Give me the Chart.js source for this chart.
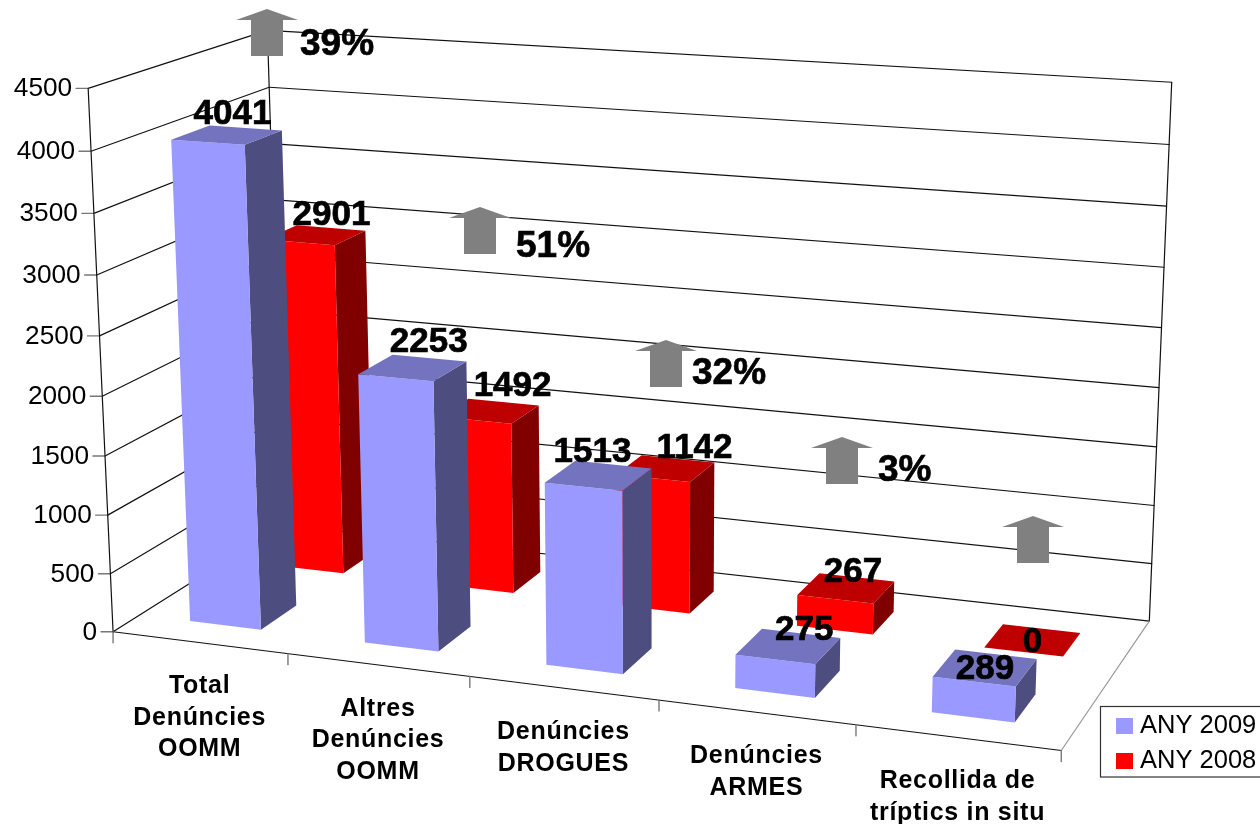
<!DOCTYPE html>
<html>
<head>
<meta charset="utf-8">
<title>Denúncies</title>
<script src="https://cdn.jsdelivr.net/npm/chart.js@4.4.1/dist/chart.umd.min.js"></script>
<style>
  html, body { margin: 0; background: #fff; overflow: hidden; }
  canvas { display: block; }
</style>
</head>
<body>
<canvas id="barCanvas" width="1260" height="824"></canvas>
<script>
const categories = [
  ["Total", "Denúncies", "OOMM"],
  ["Altres", "Denúncies", "OOMM"],
  ["Denúncies", "DROGUES"],
  ["Denúncies", "ARMES"],
  ["Recollida de", "tríptics in situ"]
];
const seriesNames = ["ANY 2009", "ANY 2008"];
const values2009 = [4041, 2253, 1513, 275, 289];
const values2008 = [2901, 1492, 1142, 267, 0];
const changeLabels = ["39%", "51%", "32%", "3%", ""];
const axisMax = 4500;
const axisStep = 500;

// camera: world (u along categories, v depth, w height, all 0-1) -> picture
const calibration = [
  [0, 0, 1, 89.5, 88], [0, 0, 8 / 9, 91.5, 151], [0, 0, 7 / 9, 95, 213], [0, 0, 6 / 9, 97, 275],
  [0, 0, 5 / 9, 99.5, 337], [0, 0, 4 / 9, 102, 397], [0, 0, 3 / 9, 104, 456], [0, 0, 2 / 9, 107, 515.5],
  [0, 0, 1 / 9, 110, 573], [0, 0, 0, 112.5, 631.5],
  [0.2, 0, 0, 288, 654], [0.4, 0, 0, 470, 677], [0.6, 0, 0, 658, 700], [0.8, 0, 0, 856, 725], [1, 0, 0, 1062, 749],
  [0, 1, 1, 266, 30], [0, 1, 8 / 9, 268.5, 87.5], [0, 1, 0, 285, 524],
  [1, 1, 1, 1172, 82], [1, 1, 8 / 9, 1169, 145], [1, 1, 7 / 9, 1166.5, 206], [1, 1, 0, 1149, 622]
];

function solveCamera(points) {
  const n = 11;
  const A = Array.from({ length: n }, () => new Array(n + 1).fill(0));
  const add = (row, rhs) => {
    for (let i = 0; i < n; i++) {
      for (let j = 0; j < n; j++) A[i][j] += row[i] * row[j];
      A[i][n] += row[i] * rhs;
    }
  };
  points.forEach(([u, v, w, x, y]) => {
    add([u, v, w, 1, 0, 0, 0, 0, -x * u, -x * v, -x * w], x);
    add([0, 0, 0, 0, u, v, w, 1, -y * u, -y * v, -y * w], y);
  });
  for (let c = 0; c < n; c++) {
    let best = c;
    for (let r = c + 1; r < n; r++) if (Math.abs(A[r][c]) > Math.abs(A[best][c])) best = r;
    [A[c], A[best]] = [A[best], A[c]];
    for (let r = 0; r < n; r++) {
      if (r === c) continue;
      const f = A[r][c] / A[c][c];
      for (let k = c; k <= n; k++) A[r][k] -= f * A[c][k];
    }
  }
  return A.map((row, i) => row[n] / row[i]);
}

const cam = solveCamera(calibration);
function project(u, v, w) {
  const d = cam[8] * u + cam[9] * v + cam[10] * w + 1;
  return {
    x: (cam[0] * u + cam[1] * v + cam[2] * w + cam[3]) / d,
    y: (cam[4] * u + cam[5] * v + cam[6] * w + cam[7]) / d
  };
}

const FONT = '"Liberation Sans", Arial, sans-serif';
const rowDepth = [[0.145, 0.355], [0.65, 0.845]];
const sideShade = ["#4D4D80", "#800000"];
const topShade = ["#7373BF", "#BF0000"];
// label offset from the centre of the bar's top face
const labelNudge = [
  [[5.5, -21], [16, -26], [-6, -23], [16, -16], [0, 2]],
  [[16, -20], [23, -25], [29, -20], [7, -16], [0, 2]]
];
const arrowTips = [[267, 9], [480, 207], [666, 340], [842, 437], [1033, 516]];
const changeAnchors = [[300, 45], [516, 247], [692, 374], [878, 471]];

function face(ctx, pts, color) {
  ctx.fillStyle = color;
  ctx.beginPath();
  pts.forEach((p, i) => i ? ctx.lineTo(p.x, p.y) : ctx.moveTo(p.x, p.y));
  ctx.closePath();
  ctx.fill();
}

function line(ctx, a, b, color, width) {
  ctx.strokeStyle = color;
  ctx.lineWidth = width || 1.2;
  ctx.beginPath();
  ctx.moveTo(a.x, a.y);
  ctx.lineTo(b.x, b.y);
  ctx.stroke();
}

function heavyText(ctx, txt, x, y) {
  ctx.strokeStyle = "#000";
  ctx.lineWidth = 0.7;
  ctx.strokeText(txt, x, y);
  ctx.fillText(txt, x, y);
}

function boxWorld(chart, el, row) {
  const area = chart.chartArea;
  return {
    u0: (el.x - el.width / 2 - area.left) / area.width,
    u1: (el.x + el.width / 2 - area.left) / area.width,
    v0: rowDepth[row][0],
    v1: rowDepth[row][1],
    w: (area.bottom - el.y) / area.height
  };
}

class Bar3dController extends Chart.BarController {
  draw() {
    const chart = this.chart, ctx = chart.ctx, row = this.index;
    this.getMeta().data.forEach((el) => {
      const { u0, u1, v0, v1, w } = boxWorld(chart, el, row);
      if (w > 0) {
        face(ctx, [project(u1, v0, 0), project(u1, v1, 0), project(u1, v1, w), project(u1, v0, w)], sideShade[row]);
        face(ctx, [project(u0, v0, 0), project(u1, v0, 0), project(u1, v0, w), project(u0, v0, w)], el.options.backgroundColor);
      }
      face(ctx, [project(u0, v0, w), project(u1, v0, w), project(u1, v1, w), project(u0, v1, w)], topShade[row]);
    });
  }
}
Bar3dController.id = "bar3d";
Bar3dController.defaults = Chart.BarController.defaults;
Bar3dController.overrides = Chart.BarController.overrides;
Chart.register(Bar3dController);

const wallsPlugin = {
  id: "walls",
  beforeDatasetsDraw(chart) {
    const ctx = chart.ctx, yScale = chart.scales.y, area = chart.chartArea;
    const dark = "#111", grey = "#777";
    ctx.save();
    ctx.lineCap = "round";
    yScale.ticks.forEach((t) => {
      const w = (area.bottom - yScale.getPixelForValue(t.value)) / area.height;
      const front = project(0, 0, w), back = project(0, 1, w), right = project(1, 1, w);
      line(ctx, front, back, dark);
      line(ctx, back, right, dark);
      line(ctx, { x: front.x - 12, y: front.y }, front, grey, 1.4);
      ctx.fillStyle = "#000";
      ctx.font = "25px " + FONT;
      ctx.textAlign = "right";
      ctx.textBaseline = "middle";
      ctx.save();
      ctx.translate(front.x - 16, front.y);
      ctx.scale(1.05, 1);
      ctx.fillText(String(t.value), 0, 1);
      ctx.restore();
    });
    line(ctx, project(0, 0, 0), project(0, 0, 1), dark);
    line(ctx, project(0, 1, 0), project(0, 1, 1), dark);
    line(ctx, project(1, 1, 0), project(1, 1, 1), dark);
    line(ctx, project(0, 0, 0), project(1, 0, 0), dark);
    line(ctx, project(1, 0, 0), project(1, 1, 0), "#999");

    const n = chart.data.labels.length;
    for (let k = 0; k <= n; k++) {
      const p = project(k / n, 0, 0);
      line(ctx, p, { x: p.x, y: p.y + 11 }, grey, 1.4);
    }
    chart.data.labels.forEach((lines, i) => {
      const p = project((i + 0.5) / n, 0, 0);
      ctx.fillStyle = "#000";
      ctx.font = "bold 25px " + FONT;
      ctx.letterSpacing = "0.7px";
      ctx.textAlign = "center";
      ctx.textBaseline = "middle";
      lines.forEach((txt, j) => ctx.fillText(txt, p.x, p.y + 44 + j * 31.5));
      ctx.letterSpacing = "0px";
    });
    ctx.restore();
  },
  afterDatasetsDraw(chart) {
    const ctx = chart.ctx;
    ctx.save();
    // change arrows
    arrowTips.forEach(([x, y]) => {
      face(ctx, [
        { x, y }, { x: x + 31, y: y + 11 }, { x: x + 16, y: y + 11 }, { x: x + 16, y: y + 47 },
        { x: x - 16, y: y + 47 }, { x: x - 16, y: y + 11 }, { x: x - 31, y: y + 11 }
      ], "#808080");
    });
    ctx.fillStyle = "#000";
    ctx.textBaseline = "middle";
    ctx.textAlign = "left";
    ctx.font = "bold 37px " + FONT;
    changeAnchors.forEach(([x, y], i) => heavyText(ctx, changeLabels[i], x, y));

    // value labels
    ctx.textAlign = "center";
    ctx.font = "bold 35px " + FONT;
    chart.data.datasets.forEach((ds, row) => {
      chart.getDatasetMeta(row).data.forEach((el, i) => {
        const { u0, u1, v0, v1, w } = boxWorld(chart, el, row);
        const c = project((u0 + u1) / 2, (v0 + v1) / 2, w);
        ctx.fillStyle = "#000";
        heavyText(ctx, String(ds.data[i]), c.x + labelNudge[row][i][0], c.y + labelNudge[row][i][1]);
      });
    });

    // legend
    ctx.strokeStyle = "#333";
    ctx.lineWidth = 1.2;
    ctx.strokeRect(1100.5, 706.5, 170, 70.5);
    ctx.font = "25.5px " + FONT;
    ctx.textAlign = "left";
    chart.data.datasets.forEach((ds, row) => {
      const top = 718 + row * 35;
      ctx.fillStyle = ds.backgroundColor;
      ctx.fillRect(1116, top, 17, 16);
      ctx.fillStyle = "#000";
      ctx.fillText(ds.label, 1140, top + 8);
    });
    ctx.restore();
  }
};

new Chart(document.getElementById("barCanvas"), {
  type: "bar3d",
  data: {
    labels: categories,
    datasets: [
      { label: seriesNames[0], data: values2009, backgroundColor: "#9999FF", grouped: false, clip: false },
      { label: seriesNames[1], data: values2008, backgroundColor: "#FF0000", grouped: false, clip: false }
    ]
  },
  options: {
    responsive: false,
    animation: false,
    layout: { padding: 0 },
    barPercentage: 0.41,
    categoryPercentage: 1,
    plugins: { legend: { display: false }, tooltip: { enabled: false } },
    scales: {
      x: { type: "category", display: false, offset: true, grid: { offset: true } },
      y: { type: "linear", display: false, min: 0, max: axisMax, ticks: { stepSize: axisStep } }
    }
  },
  plugins: [wallsPlugin]
});
</script>
</body>
</html>
